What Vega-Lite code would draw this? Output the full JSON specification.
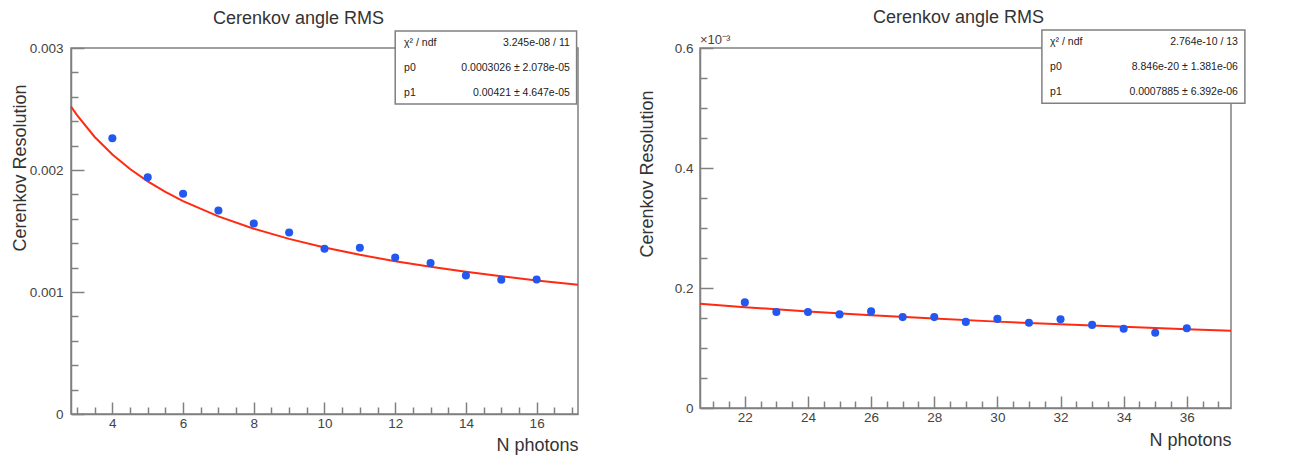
{
  "$schema": "https://vega.github.io/schema/vega-lite/v6.json",
  "background": "white",
  "padding": {"left": 10, "top": 8, "right": 0, "bottom": 0},
  "config": {
    "font": "Liberation Sans",
    "view": {"stroke": "#808080", "strokeWidth": 1.5},
    "concat": {"spacing": 54},
    "axis": {
      "domainColor": "#808080", "domainWidth": 1.5,
      "tickColor": "#808080", "tickWidth": 1.5,
      "labelFont": "Liberation Sans", "labelFontSize": 13.5, "labelColor": "#444444",
      "titleFont": "Liberation Sans", "titleFontSize": 18, "titleFontWeight": "normal", "titleColor": "#333333",
      "grid": false
    },
    "title": {"font": "Liberation Sans", "fontSize": 18, "fontWeight": "normal", "color": "#333333"},
    "text": {"lineBreak": "\n"}
  },
  "datasets": {
    "leftPts": [
      {"n": 4, "res": 0.00226}, {"n": 5, "res": 0.00194}, {"n": 6, "res": 0.001805},
      {"n": 7, "res": 0.001668}, {"n": 8, "res": 0.001562}, {"n": 9, "res": 0.001487},
      {"n": 10, "res": 0.001355}, {"n": 11, "res": 0.001362}, {"n": 12, "res": 0.001283},
      {"n": 13, "res": 0.001237}, {"n": 14, "res": 0.001135}, {"n": 15, "res": 0.0011},
      {"n": 16, "res": 0.001102}
    ],
    "leftFit": [
      {"n": 2.83, "res": 0.0025208}, {"n": 3, "res": 0.0024494}, {"n": 3.5, "res": 0.0022706},
      {"n": 4, "res": 0.0021266}, {"n": 4.5, "res": 0.0020076}, {"n": 5, "res": 0.0019069},
      {"n": 5.5, "res": 0.0018205}, {"n": 6, "res": 0.0017452}, {"n": 7, "res": 0.0016198},
      {"n": 8, "res": 0.0015189}, {"n": 9, "res": 0.0014356}, {"n": 10, "res": 0.0013653},
      {"n": 11, "res": 0.0013049}, {"n": 12, "res": 0.0012524}, {"n": 13, "res": 0.0012062},
      {"n": 14, "res": 0.0011652}, {"n": 15, "res": 0.0011284}, {"n": 16, "res": 0.0010952},
      {"n": 17.17, "res": 0.0010601}
    ],
    "leftStats": [
      {"names": "χ² / ndf\np0\np1", "vals": "3.245e-08 / 11\n0.0003026 ± 2.078e-05\n0.00421 ± 4.647e-05"}
    ],
    "rightPts": [
      {"n": 22, "res": 0.000176}, {"n": 23, "res": 0.00016}, {"n": 24, "res": 0.00016},
      {"n": 25, "res": 0.000156}, {"n": 26, "res": 0.000161}, {"n": 27, "res": 0.0001515},
      {"n": 28, "res": 0.0001515}, {"n": 29, "res": 0.0001435}, {"n": 30, "res": 0.0001485},
      {"n": 31, "res": 0.000142}, {"n": 32, "res": 0.000148}, {"n": 33, "res": 0.0001385},
      {"n": 34, "res": 0.000132}, {"n": 35, "res": 0.0001255}, {"n": 36, "res": 0.000133}
    ],
    "rightFit": [
      {"n": 20.58, "res": 0.00017381}, {"n": 22, "res": 0.00016811}, {"n": 24, "res": 0.00016095},
      {"n": 26, "res": 0.00015464}, {"n": 28, "res": 0.00014901}, {"n": 30, "res": 0.00014396},
      {"n": 32, "res": 0.00013939}, {"n": 34, "res": 0.00013523}, {"n": 36, "res": 0.00013142},
      {"n": 37.4, "res": 0.00012893}
    ],
    "rightStats": [
      {"names": "χ² / ndf\np0\np1", "vals": "2.764e-10 / 13\n8.846e-20 ± 1.381e-06\n0.0007885 ± 6.392e-06", "exp": "×10⁻³"}
    ]
  },
  "hconcat": [
    {
      "width": 507, "height": 366,
      "title": {"text": "Cerenkov angle RMS", "dx": -26, "offset": 2},
      "resolve": {"axis": {"x": "independent", "y": "independent"}},
      "layer": [
        {
          "data": {"name": "leftFit"},
          "mark": {"type": "line", "color": "#ff2a10", "strokeWidth": 2},
          "encoding": {
            "x": {"field": "n", "type": "quantitative",
                  "scale": {"domain": [2.83, 17.17], "nice": false, "zero": false},
                  "axis": {"orient": "bottom", "values": [3, 3.5, 4.5, 5, 5.5, 6.5, 7, 7.5, 8.5, 9, 9.5, 10.5, 11, 11.5, 12.5, 13, 13.5, 14.5, 15, 15.5, 16.5, 17],
                           "labels": false, "domain": false, "tickSize": -7, "title": null}},
            "y": {"field": "res", "type": "quantitative",
                  "scale": {"domain": [0, 0.003], "nice": false, "zero": false},
                  "axis": {"orient": "left", "values": [0.0002, 0.0004, 0.0006, 0.0008, 0.0012, 0.0014, 0.0016, 0.0018, 0.0022, 0.0024, 0.0026, 0.0028],
                           "labels": false, "domain": false, "tickSize": -7, "title": null}}
          }
        },
        {
          "data": {"name": "leftPts"},
          "mark": {"type": "circle", "size": 65, "color": "#2358f0", "opacity": 1},
          "encoding": {
            "x": {"field": "n", "type": "quantitative",
                  "axis": {"orient": "bottom", "values": [4, 6, 8, 10, 12, 14, 16], "tickSize": -12, "labelPadding": 14,
                           "title": "N photons", "titleAnchor": "end", "titleY": 22, "titleBaseline": "top"}},
            "y": {"field": "res", "type": "quantitative",
                  "axis": {"orient": "left", "values": [0, 0.001, 0.002, 0.003], "format": "~g", "tickSize": -13, "labelPadding": 21,
                           "title": "Cerenkov Resolution", "titleAnchor": "end", "titleY": 36, "titleX": -42}}
          }
        },
        {
          "data": {"name": "leftStats"},
          "mark": {"type": "rect", "fill": "white", "stroke": "#808080", "strokeWidth": 1.5},
          "encoding": {
            "x": {"datum": 12.0, "type": "quantitative", "axis": null},
            "x2": {"datum": 17.13},
            "y": {"datum": 0.00314, "type": "quantitative", "axis": null},
            "y2": {"datum": 0.002541}
          }
        },
        {
          "data": {"name": "leftStats"},
          "mark": {"type": "text", "align": "left", "baseline": "middle", "lineHeight": 25, "fontSize": 10.5, "color": "#222222"},
          "encoding": {
            "x": {"datum": 12.25, "type": "quantitative", "axis": null},
            "y": {"datum": 0.003041, "type": "quantitative", "axis": null},
            "text": {"field": "names"}
          }
        },
        {
          "data": {"name": "leftStats"},
          "mark": {"type": "text", "align": "right", "baseline": "middle", "lineHeight": 25, "fontSize": 10.5, "color": "#222222"},
          "encoding": {
            "x": {"datum": 16.94, "type": "quantitative", "axis": null},
            "y": {"datum": 0.003041, "type": "quantitative", "axis": null},
            "text": {"field": "vals"}
          }
        }
      ]
    },
    {
      "width": 531, "height": 360,
      "title": {"text": "Cerenkov angle RMS", "dx": -7, "offset": 2},
      "resolve": {"axis": {"x": "independent", "y": "independent"}},
      "layer": [
        {
          "data": {"name": "rightFit"},
          "mark": {"type": "line", "color": "#ff2a10", "strokeWidth": 2},
          "encoding": {
            "x": {"field": "n", "type": "quantitative",
                  "scale": {"domain": [20.58, 37.4], "nice": false, "zero": false},
                  "axis": {"orient": "bottom", "values": [21, 21.5, 22.5, 23, 23.5, 24.5, 25, 25.5, 26.5, 27, 27.5, 28.5, 29, 29.5, 30.5, 31, 31.5, 32.5, 33, 33.5, 34.5, 35, 35.5, 36.5, 37],
                           "labels": false, "domain": false, "tickSize": -7, "title": null}},
            "y": {"field": "res", "type": "quantitative",
                  "scale": {"domain": [0, 0.0006], "nice": false, "zero": false},
                  "axis": {"orient": "left", "values": [0.00005, 0.0001, 0.00015, 0.00025, 0.0003, 0.00035, 0.00045, 0.0005, 0.00055],
                           "labels": false, "domain": false, "tickSize": -7, "title": null}}
          }
        },
        {
          "data": {"name": "rightPts"},
          "mark": {"type": "circle", "size": 65, "color": "#2358f0", "opacity": 1},
          "encoding": {
            "x": {"field": "n", "type": "quantitative",
                  "axis": {"orient": "bottom", "values": [22, 24, 26, 28, 30, 32, 34, 36], "tickSize": -12, "labelPadding": 14,
                           "title": "N photons", "titleAnchor": "end", "titleY": 23, "titleBaseline": "top"}},
            "y": {"field": "res", "type": "quantitative",
                  "axis": {"orient": "left", "values": [0, 0.0002, 0.0004, 0.0006], "labelExpr": "format(datum.value * 1000, '~g')", "tickSize": -13, "labelPadding": 20,
                           "title": "Cerenkov Resolution", "titleAnchor": "end", "titleY": 42, "titleX": -44}}
          }
        },
        {
          "data": {"name": "rightStats"},
          "mark": {"type": "rect", "fill": "white", "stroke": "#808080", "strokeWidth": 1.5},
          "encoding": {
            "x": {"datum": 31.41, "type": "quantitative", "axis": null},
            "x2": {"datum": 37.84},
            "y": {"datum": 0.00063, "type": "quantitative", "axis": null},
            "y2": {"datum": 0.000508}
          }
        },
        {
          "data": {"name": "rightStats"},
          "mark": {"type": "text", "align": "left", "baseline": "middle", "lineHeight": 25, "fontSize": 10.5, "color": "#222222"},
          "encoding": {
            "x": {"datum": 31.67, "type": "quantitative", "axis": null},
            "y": {"datum": 0.00061, "type": "quantitative", "axis": null},
            "text": {"field": "names"}
          }
        },
        {
          "data": {"name": "rightStats"},
          "mark": {"type": "text", "align": "right", "baseline": "middle", "lineHeight": 25, "fontSize": 10.5, "color": "#222222"},
          "encoding": {
            "x": {"datum": 37.62, "type": "quantitative", "axis": null},
            "y": {"datum": 0.00061, "type": "quantitative", "axis": null},
            "text": {"field": "vals"}
          }
        },
        {
          "data": {"name": "rightStats"},
          "mark": {"type": "text", "align": "left", "baseline": "bottom", "dy": -1, "fontSize": 13, "color": "#444444"},
          "encoding": {
            "x": {"datum": 20.58, "type": "quantitative", "axis": null},
            "y": {"datum": 0.0006, "type": "quantitative", "axis": null},
            "text": {"field": "exp"}
          }
        }
      ]
    }
  ]
}
